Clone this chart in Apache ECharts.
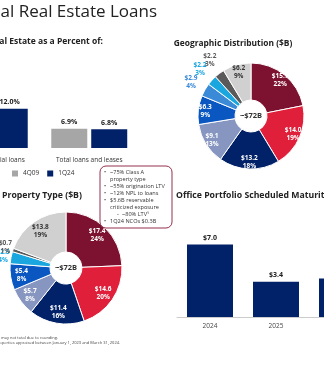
<!DOCTYPE html>
<html><head><meta charset="utf-8">
<script src="https://cdn.jsdelivr.net/npm/echarts@6/dist/echarts.min.js"></script>
<style>html,body{margin:0;padding:0;background:#fff;}#c{width:324px;height:371px;}</style>
</head><body><div id="c"></div>
<script>
// ---- Data ----
const barCategories = ['Total commercial loans', 'Total loans and leases'];
const bar4Q09 = [null, 6.9];
const bar1Q24 = [12.0, 6.8];

const geoValues = [15.7, 14.0, 13.2, 9.1, 6.3, 2.9, 2.2, 2.2, 6.2];
const geoPcts = [22, 19, 18, 13, 9, 4, 3, 3, 9];
const geoOutside = [false, false, false, false, false, true, true, true, false];

const propValues = [17.4, 14.6, 11.4, 5.7, 5.4, 2.5, 0.7, 13.8];
const propPcts = [24, 20, 16, 8, 8, 4, 1, 19];
const propOutside = [false, false, false, false, false, true, true, false];

const maturityYears = ['2024', '2025', '2026'];
const maturityValues = [7.0, 3.4, 3.7];

const calloutLines = [
  ['•', '~75% Class A'],
  ['', 'property type'],
  ['•', '~55% origination LTV'],
  ['•', '~12% NPL to loans'],
  ['•', '$5.6B reservable'],
  ['', 'criticized exposure'],
  ['sub', '~80% LTV¹'],
  ['•', '1Q24 NCOs $0.3B']
];

// ---- Styles ----
const FONT = '"Open Sans", "Noto Sans", sans-serif';
const geoColors = ['#7d1130', '#e01f3a', '#012169', '#8796c0', '#0a57c2', '#3a8ad8', '#1aa6df', '#5a5a5a', '#d0d0d0'];
const propColors = ['#7d1130', '#e01f3a', '#012169', '#8796c0', '#0a57c2', '#1aa6df', '#5a5a5a', '#d0d0d0'];
const darkLabelIdxGeo = 8, darkLabelIdxProp = 7;

function lbl(v, p) { return '$' + v.toFixed(1) + '\n' + p + '%'; }

function pieSeries(values, pcts, colors, outside, darkIdx, center, r0, r1, rIn, rOut) {
  const base = {
    type: 'pie', center: center, startAngle: 90, clockwise: true,
    avoidLabelOverlap: false, silent: true, animation: false,
    labelLine: { show: false }, emphasis: { disabled: true },
    labelLayout: { hideOverlap: false }
  };
  const main = Object.assign({}, base, {
    radius: [r0, r1],
    itemStyle: { borderColor: '#fff', borderWidth: 1 },
    label: { show: false },
    data: values.map((v, i) => ({ value: v, name: 'p' + i, itemStyle: { color: colors[i] } }))
  });
  const inner = Object.assign({}, base, {
    radius: [2 * rIn - r1, r1],
    itemStyle: { color: 'rgba(0,0,0,0)' },
    z: 5,
    data: values.map((v, i) => ({
      value: v, name: 'i' + i,
      label: {
        show: !outside[i], position: 'inside', formatter: lbl(v, pcts[i]),
        color: i === darkIdx ? '#333' : '#fff', fontSize: 6.5, fontWeight: 'bold',
        fontFamily: FONT, lineHeight: 8
      }
    }))
  });
  const outers = [];
  values.forEach((val, j) => {
    if (!outside[j]) return;
    outers.push(Object.assign({}, base, {
      radius: [rOut - 7, rOut + 7],
      itemStyle: { color: 'rgba(0,0,0,0)' },
      z: 5,
      data: values.map((v, i) => ({
        value: v, name: 'o' + j + '_' + i,
        label: {
          show: i === j, position: 'inside', formatter: lbl(v, pcts[i]),
          color: colors[i], fontSize: 6.5, fontWeight: 'bold',
          fontFamily: FONT, lineHeight: 8
        }
      }))
    }));
  });
  return [main, inner].concat(outers);
}

const chart = echarts.init(document.getElementById('c'), null, { renderer: 'canvas' });

const calloutEls = [];
calloutLines.forEach((ln, k) => {
  const y = 172 + k * 7.1;
  if (ln[0] === '•') calloutEls.push({ type: 'text', z: 61, x: 104, y: y, style: { text: '•', fontSize: 5.6, fontFamily: FONT, fill: '#333', verticalAlign: 'middle' } });
  if (ln[0] === 'sub') calloutEls.push({ type: 'text', z: 61, x: 117, y: y, style: { text: '-', fontSize: 5.6, fontFamily: FONT, fill: '#333', verticalAlign: 'middle' } });
  calloutEls.push({ type: 'text', z: 61, x: ln[0] === 'sub' ? 122 : 110, y: y, style: { text: ln[1], fontSize: 5.6, fontFamily: FONT, fill: '#333', verticalAlign: 'middle' } });
});

const option = {
  animation: false,
  backgroundColor: '#fff',
  legend: {
    data: ['4Q09', '1Q24'], left: 12, top: 170, padding: 0, icon: 'rect', itemWidth: 6, itemHeight: 6, itemGap: 8,
    textStyle: { fontSize: 6.5, color: '#333', fontFamily: FONT }, selectedMode: false
  },
  grid: [
    { left: -60, width: 199, top: 101, height: 47, outerBoundsMode: 'none', containLabel: false },
    { left: 177, width: 198, top: 234, height: 83, outerBoundsMode: 'none', containLabel: false }
  ],
  xAxis: [
    { gridIndex: 0, type: 'category', data: barCategories, axisLine: { show: false }, axisTick: { show: false },
      axisLabel: { fontSize: 6.5, color: '#333', margin: 9, fontFamily: FONT, hideOverlap: false } },
    { gridIndex: 1, type: 'category', data: maturityYears, axisLine: { lineStyle: { color: '#cccccc' } }, axisTick: { show: false },
      axisLabel: { fontSize: 6.5, color: '#444', margin: 6, fontFamily: FONT } }
  ],
  yAxis: [
    { gridIndex: 0, type: 'value', min: 2, max: 14, show: false },
    { gridIndex: 1, type: 'value', min: 0, max: 8, show: false }
  ],
  series: [
    { name: '4Q09', type: 'bar', xAxisIndex: 0, yAxisIndex: 0, data: bar4Q09, barWidth: 36, barGap: '11%',
      itemStyle: { color: '#a6a6a6' },
      label: { show: true, position: 'top', distance: 3, formatter: p => p.value.toFixed(1) + '%', fontSize: 7, fontWeight: 'bold', color: '#222', fontFamily: FONT } },
    { name: '1Q24', type: 'bar', xAxisIndex: 0, yAxisIndex: 0, data: bar1Q24, barWidth: 36,
      itemStyle: { color: '#012169' },
      label: { show: true, position: 'top', distance: 3, formatter: p => p.value.toFixed(1) + '%', fontSize: 7, fontWeight: 'bold', color: '#222', fontFamily: FONT } },
    { name: 'Maturities', type: 'bar', xAxisIndex: 1, yAxisIndex: 1, data: maturityValues, barWidth: 46,
      itemStyle: { color: '#012169' },
      label: { show: true, position: 'top', distance: 3, formatter: p => '$' + p.value.toFixed(1), fontSize: 7, fontWeight: 'bold', color: '#222', fontFamily: FONT } }
  ].concat(
    pieSeries(geoValues, geoPcts, geoColors, geoOutside, darkLabelIdxGeo, [251, 116], 16, 53, 43, 66),
    pieSeries(propValues, propPcts, propColors, propOutside, darkLabelIdxProp, [66, 268], 16, 56, 42, 61)
  ),
  graphic: [
    { type: 'text', x: 157, y: 12, style: { text: 'Commercial Real Estate Loans', fontSize: 17, fontFamily: FONT, fill: '#222', align: 'right', verticalAlign: 'middle' } },
    { type: 'text', x: 103, y: 42, style: { text: 'Commercial Real Estate as a Percent of:', fontSize: 8.5, fontWeight: 'bold', fontFamily: FONT, fill: '#222', align: 'right', verticalAlign: 'middle' } },
    { type: 'text', x: 233, y: 44, style: { text: 'Geographic Distribution ($B)', fontSize: 8.4, fontWeight: 'bold', fontFamily: FONT, fill: '#222', align: 'center', verticalAlign: 'middle' } },
    { type: 'text', x: 2, y: 196, style: { text: 'Property Type ($B)', fontSize: 8.7, fontWeight: 'bold', fontFamily: FONT, fill: '#222', align: 'left', verticalAlign: 'middle' } },
    { type: 'text', x: 176, y: 196, style: { text: 'Office Portfolio Scheduled Maturities ($B)', fontSize: 8.7, fontWeight: 'bold', fontFamily: FONT, fill: '#222', align: 'left', verticalAlign: 'middle' } },
    { type: 'text', x: 251, y: 116, z: 20, style: { text: '~$72B', fontSize: 7.5, fontWeight: 'bold', fontFamily: FONT, fill: '#333', align: 'center', verticalAlign: 'middle' } },
    { type: 'text', x: 66, y: 268, z: 20, style: { text: '~$72B', fontSize: 7.5, fontWeight: 'bold', fontFamily: FONT, fill: '#333', align: 'center', verticalAlign: 'middle' } },
    { type: 'rect', z: 50, shape: { x: 100, y: 166, width: 72, height: 62, r: 6 }, style: { fill: '#fff', stroke: '#8b1a3a', lineWidth: 0.9 } }
  ].concat(calloutEls, [
    { type: 'text', x: 58, y: 338, style: { text: 'Note: Amounts may not total due to rounding.', fontSize: 4, fontFamily: FONT, fill: '#444', align: 'right', verticalAlign: 'middle' } },
    { type: 'text', x: 120, y: 342.5, style: { text: '¹ Based on properties appraised between January 1, 2023 and March 31, 2024.', fontSize: 4, fontFamily: FONT, fill: '#444', align: 'right', verticalAlign: 'middle' } }
  ])
};
chart.setOption(option);
</script>
</body></html>
